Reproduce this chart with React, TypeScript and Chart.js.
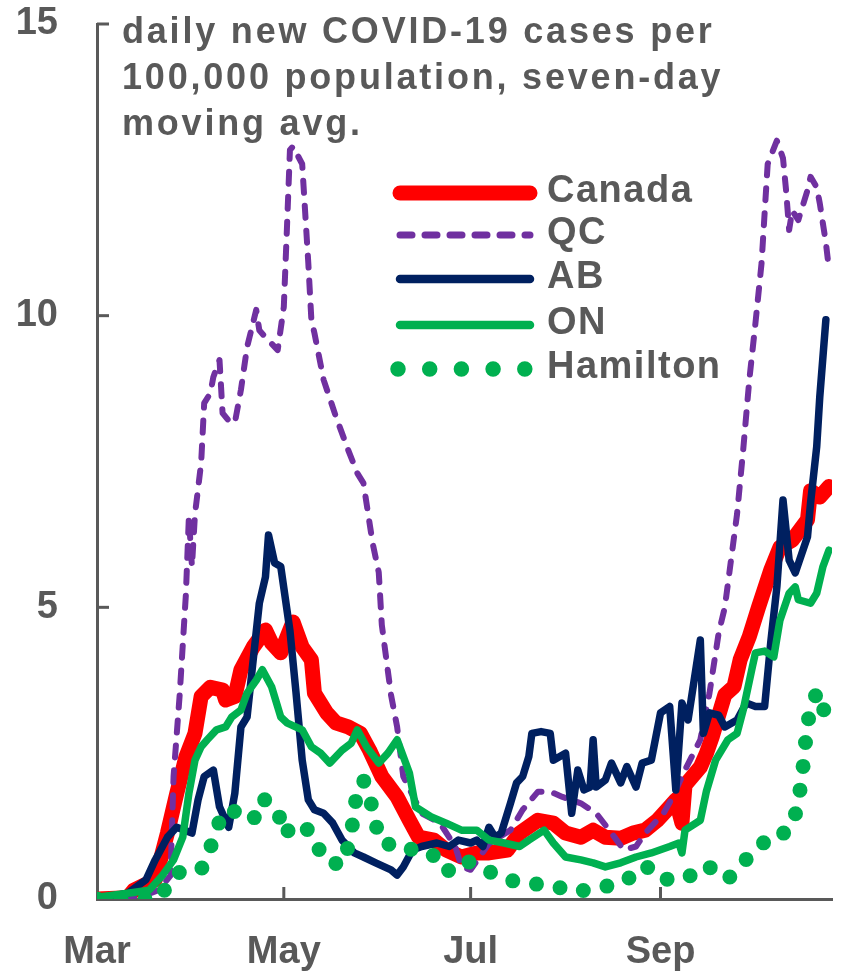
import React, { useEffect, useRef } from "react";
import { Chart, registerables } from "chart.js";

Chart.register(...registerables);

// x values are days since March 1, 2020
const xTickDays = [0, 61, 122, 184];
const xTickLabels = ["Mar", "May", "Jul", "Sep"];
const yTickValues = [0, 5, 10, 15];

const titleLines = [
  "daily new COVID-19 cases per",
  "100,000 population, seven-day",
  "moving avg.",
];

const seriesNames = ["Canada", "QC", "AB", "ON", "Hamilton"];
const seriesColors = ["#FF0000", "#7030A0", "#002060", "#00B050", "#00B050"];

const canadaDays = [0, 10, 12, 19, 23, 26, 29, 32, 34, 37, 41, 42, 45, 47, 51, 55, 57, 60, 64, 67, 70, 71, 75, 78, 82, 86, 89, 93, 98, 102, 105, 110, 114, 119, 124, 128, 134, 138, 144, 149, 153, 158, 162, 166, 171, 175, 179, 183, 187, 189, 191, 192, 197, 199, 201, 205, 208, 210, 213, 216, 220, 223, 227, 232, 233, 236, 239];
const canadaValues = [0, 0.02, 0.15, 0.33, 1.13, 1.8, 2.43, 2.84, 3.47, 3.63, 3.58, 3.41, 3.47, 3.93, 4.32, 4.61, 4.39, 4.22, 4.75, 4.32, 4.1, 3.53, 3.19, 3.02, 2.95, 2.84, 2.55, 2.1, 1.75, 1.35, 1.06, 1.01, 0.84, 0.72, 0.79, 0.79, 0.84, 1.13, 1.35, 1.3, 1.13, 1.06, 1.18, 1.06, 1.04, 1.13, 1.18, 1.35, 1.58, 1.7, 1.3, 1.95, 2.26, 2.5, 2.8, 3.5, 3.64, 4.1, 4.5, 5.0, 5.64, 6.03, 6.15, 6.5, 7.0, 6.89, 7.07];

const qcDays = [0, 14, 20, 24, 25, 27, 29, 30, 31, 32, 34, 35, 37, 38, 40, 41, 43, 45, 47, 49, 52, 53, 55, 59, 61, 62, 63, 64, 65, 67, 69, 70, 71, 74, 78, 82, 85, 87, 90, 92, 93, 96, 98, 100, 106, 112, 117, 119, 122, 128, 135, 139, 144, 148, 152, 158, 163, 168, 172, 176, 179, 185, 188, 192, 197, 200, 203, 205, 209, 211, 213, 215, 217, 218, 219, 222, 224, 225, 226, 227, 229, 232, 233, 235, 236, 238, 239];
const qcValues = [0, 0.03, 0.15, 0.4, 2.1, 3.5, 5.2, 6.55, 5.7, 6.6, 7.47, 8.5, 8.67, 8.95, 9.24, 8.33, 8.2, 8.16, 8.73, 9.46, 10.1, 9.75, 9.63, 9.41, 10.15, 11.47, 12.84, 12.9, 12.8, 12.6, 10.9, 9.93, 9.7, 8.9, 8.27, 7.7, 7.3, 7.13, 6.1, 5.6, 4.7, 3.5, 2.95, 2.1, 1.47, 1.3, 0.9, 0.55, 0.5, 0.95, 1.18, 1.53, 1.84, 1.84, 1.75, 1.64, 1.47, 1.13, 0.84, 0.9, 1.13, 1.47, 1.75, 2.21, 2.73, 3.53, 4.56, 5.0, 6.6, 7.7, 8.9, 9.87, 10.9, 11.76, 12.6, 13.0, 12.7, 12.15, 11.47, 11.8, 11.64, 12.15, 12.38, 12.2, 11.93, 11.25, 10.8];

const abDays = [0, 10, 16, 19, 23, 26, 31, 33, 35, 38, 40, 43, 45, 47, 49, 51, 53, 55, 56, 58, 60, 63, 65, 67, 69, 71, 74, 77, 80, 84, 87, 91, 96, 98, 100, 103, 106, 111, 115, 118, 122, 124, 126, 128, 130, 132, 135, 137, 139, 141, 142, 145, 148, 149, 153, 155, 157, 159, 161, 162, 163, 166, 168, 171, 173, 176, 178, 181, 184, 187, 189, 191, 193, 197, 198, 200, 203, 205, 209, 212, 215, 218, 220, 222, 224, 226, 228, 232, 233, 235, 236, 238];
const abValues = [0, 0.1, 0.33, 0.67, 1.06, 1.23, 1.13, 1.7, 2.1, 2.21, 1.58, 1.23, 1.81, 2.95, 3.12, 4.1, 5.07, 5.52, 6.24, 5.76, 5.7, 4.6, 3.53, 2.38, 1.7, 1.53, 1.47, 1.3, 1.01, 0.79, 0.72, 0.62, 0.5, 0.41, 0.55, 0.84, 0.9, 0.96, 0.9, 1.01, 0.96, 1.01, 0.9, 1.23, 1.06, 1.13, 1.64, 1.99, 2.1, 2.44, 2.84, 2.87, 2.84, 2.38, 2.5, 1.47, 2.21, 1.87, 1.92, 2.73, 1.92, 2.04, 2.33, 1.99, 2.27, 1.92, 2.33, 2.38, 3.19, 3.3, 1.87, 3.36, 3.07, 4.44, 2.84, 3.19, 3.15, 2.95, 3.07, 3.36, 3.3, 3.3, 4.4, 5.35, 6.84, 5.81, 5.59, 6.21, 6.79, 7.75, 8.6, 9.93];

const onDays = [0, 10, 17, 21, 25, 28, 30, 32, 34, 36, 39, 42, 44, 47, 49, 52, 54, 57, 60, 62, 67, 70, 73, 76, 80, 83, 85, 88, 92, 95, 98, 102, 104, 109, 114, 119, 124, 128, 133, 138, 141, 146, 149, 153, 158, 162, 166, 171, 176, 181, 187, 190, 191, 192, 197, 199, 202, 206, 209, 211, 214, 215, 218, 221, 223, 226, 228, 229, 233, 235, 237, 239];
const onValues = [0.03, 0.1, 0.15, 0.38, 0.67, 1.06, 1.81, 2.38, 2.61, 2.73, 2.9, 2.95, 3.12, 3.24, 3.53, 3.75, 3.93, 3.64, 3.12, 3.02, 2.9, 2.61, 2.5, 2.33, 2.55, 2.67, 2.9, 2.61, 2.33, 2.5, 2.73, 2.16, 1.58, 1.41, 1.3, 1.18, 1.18, 1.01, 0.96, 0.9, 1.01, 1.18, 0.96, 0.72, 0.67, 0.62, 0.55, 0.62, 0.72, 0.79, 0.9, 0.96, 0.79, 1.18, 1.35, 1.85, 2.38, 2.73, 2.84, 3.24, 3.98, 4.22, 4.25, 4.15, 4.78, 5.24, 5.35, 5.13, 5.07, 5.24, 5.69, 5.98];

const hamiltonDays = [0, 20, 26, 34, 38, 41, 46, 51, 54, 59, 61, 65, 70, 74, 80, 83, 84, 87, 90, 92, 94, 99, 103, 109, 114, 120, 126, 132, 139, 148, 156, 164, 172, 179, 184, 192, 199, 206, 211, 217, 221, 225, 228, 230, 231, 232, 235, 237, 238];
const hamiltonValues = [0, 0, 0.45, 0.5, 1.01, 1.5, 1.5, 1.35, 1.73, 1.53, 1.1, 1.3, 1.15, 0.67, 0.58, 1.06, 1.61, 2.04, 1.56, 1.05, 0.93, 0.96, 0.84, 0.8, 0.46, 0.67, 0.53, 0.36, 0.27, 0.24, 0.12, 0.19, 0.29, 0.58, 0.34, 0.34, 0.58, 0.34, 0.63, 0.93, 1.13, 1.13, 1.44, 1.99, 2.5, 3.03, 3.55, 3.41, 2.86];

const toPoints = (days: number[], values: number[]) =>
  days.map((d, i) => ({ x: d, y: values[i] }));

const GRAY = "#595959";
const FONT = '"Liberation Sans", Arial, Helvetica, sans-serif';

const overlayPlugin = {
  id: "overlay",
  beforeDatasetsDraw(chart: any) {
    const { ctx, chartArea, scales } = chart;
    const xs = scales.x;
    const ys = scales.y;
    ctx.save();
    ctx.strokeStyle = GRAY;
    ctx.lineWidth = 3;
    ctx.lineCap = "butt";
    // inward tick marks
    yTickValues.forEach((v) => {
      if (v === 0) return;
      const y = ys.getPixelForValue(v);
      ctx.beginPath();
      ctx.moveTo(chartArea.left, y);
      ctx.lineTo(chartArea.left + 12, y);
      ctx.stroke();
    });
    xTickDays.forEach((d) => {
      if (d === 0) return;
      const x = xs.getPixelForValue(d);
      ctx.beginPath();
      ctx.moveTo(x, chartArea.bottom);
      ctx.lineTo(x, chartArea.bottom - 12);
      ctx.stroke();
    });
    ctx.restore();
  },
  afterDraw(chart: any) {
    const { ctx, chartArea } = chart;
    ctx.save();
    // title
    ctx.fillStyle = GRAY;
    ctx.font = `bold 36px ${FONT}`;
    ctx.textBaseline = "alphabetic";
    ctx.textAlign = "left";
    (ctx as any).letterSpacing = "2.8px";
    const tx = chartArea.left + 25;
    const baseY = chartArea.top + 19;
    titleLines.forEach((line, i) => {
      ctx.fillText(line, tx, baseY + i * 46);
    });

    // legend
    const lx0 = chartArea.left + 303;
    const lx1 = chartArea.left + 433;
    const textX = chartArea.left + 450;
    const rowY = [193, 235, 279, 325, 369].map((v) => v - 24 + chartArea.top);
    const styles = [
      { w: 15, dash: [] as number[] },
      { w: 7, dash: [12, 13] },
      { w: 8.5, dash: [] as number[] },
      { w: 8.5, dash: [] as number[] },
      { w: 15.5, dash: [0, 31.7] },
    ];
    seriesNames.forEach((name, i) => {
      const y = rowY[i];
      const s = styles[i];
      ctx.beginPath();
      ctx.strokeStyle = seriesColors[i];
      ctx.lineWidth = s.w;
      ctx.lineCap = "round";
      ctx.setLineDash(s.dash);
      if (i === 4) {
        ctx.moveTo(lx0 - 2, y);
        ctx.lineTo(lx1 - 3, y);
      } else {
        ctx.moveTo(lx0, y);
        ctx.lineTo(lx1, y);
      }
      ctx.stroke();
      ctx.setLineDash([]);
      ctx.fillStyle = GRAY;
      ctx.font = `bold 38px ${FONT}`;
      (ctx as any).letterSpacing = "1.5px";
      ctx.textBaseline = "middle";
      ctx.fillText(name, textX, y - 1);
    });
    ctx.restore();
  },
};

export default function App() {
  const canvasRef = useRef<HTMLCanvasElement | null>(null);

  useEffect(() => {
    const canvas = canvasRef.current;
    if (!canvas) return;
    const lineCommon = {
      pointRadius: 0,
      pointHoverRadius: 0,
      tension: 0,
      fill: false,
      borderJoinStyle: "round" as const,
      borderCapStyle: "round" as const,
    };
    const chart = new Chart(canvas, {
      type: "line",
      data: {
        datasets: [
          {
            ...lineCommon,
            label: seriesNames[0],
            data: toPoints(canadaDays, canadaValues),
            borderColor: seriesColors[0],
            borderWidth: 15,
            order: 5,
          },
          {
            ...lineCommon,
            label: seriesNames[1],
            data: toPoints(qcDays, qcValues),
            borderColor: seriesColors[1],
            borderWidth: 6,
            borderDash: [12, 13],
            order: 4,
          },
          {
            ...lineCommon,
            label: seriesNames[2],
            data: toPoints(abDays, abValues),
            borderColor: seriesColors[2],
            borderWidth: 7.5,
            order: 3,
          },
          {
            ...lineCommon,
            label: seriesNames[3],
            data: toPoints(onDays, onValues),
            borderColor: seriesColors[3],
            borderWidth: 7.5,
            order: 2,
          },
          {
            ...lineCommon,
            label: seriesNames[4],
            data: toPoints(hamiltonDays, hamiltonValues),
            borderColor: seriesColors[4],
            borderWidth: 15,
            borderDash: [0, 24],
            order: 1,
          },
        ],
      },
      options: {
        responsive: false,
        animation: false,
        devicePixelRatio: 1,
        layout: { padding: { left: 0, right: 9, top: 24, bottom: 0 } },
        plugins: {
          legend: { display: false },
          tooltip: { enabled: false },
          title: { display: false },
        },
        scales: {
          x: {
            type: "linear",
            min: 0,
            max: 240,
            afterBuildTicks: (scale: any) => {
              scale.ticks = xTickDays.map((v) => ({ value: v }));
            },
            afterFit: (scale: any) => {
              scale.height = 73;
              scale.paddingLeft = 0;
              scale.paddingRight = 0;
              scale.paddingTop = 0;
              scale.paddingBottom = 0;
            },
            grid: { display: false, drawTicks: false },
            border: { display: true, color: GRAY, width: 3 },
            ticks: {
              autoSkip: false,
              maxRotation: 0,
              minRotation: 0,
              padding: 31,
              color: GRAY,
              font: { family: FONT, size: 38, weight: "bold" },
              callback: (value: any) => {
                const idx = xTickDays.indexOf(Number(value));
                return idx >= 0 ? xTickLabels[idx] : "";
              },
            },
          },
          y: {
            type: "linear",
            min: 0,
            max: 15,
            afterBuildTicks: (scale: any) => {
              scale.ticks = yTickValues.map((v) => ({ value: v }));
            },
            afterFit: (scale: any) => {
              scale.width = 97;
              scale.paddingLeft = 0;
              scale.paddingRight = 0;
              scale.paddingTop = 0;
              scale.paddingBottom = 0;
            },
            grid: { display: false, drawTicks: false },
            border: { display: true, color: GRAY, width: 3 },
            ticks: {
              padding: 39,
              color: GRAY,
              font: { family: FONT, size: 38, weight: "bold" },
              callback: (value: any) => String(value),
            },
          },
        },
      },
      plugins: [overlayPlugin],
    });
    return () => {
      chart.destroy();
    };
  }, []);

  return (
    <div style={{ position: "absolute", left: 0, top: 0, width: 841, height: 972 }}>
      <canvas ref={canvasRef} width={841} height={972} style={{ display: "block" }} />
    </div>
  );
}
